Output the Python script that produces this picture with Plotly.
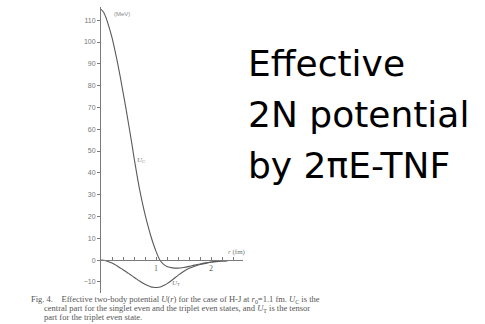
import plotly.graph_objects as go

# radial distance r (fm)
r = [0.0, 0.05, 0.1, 0.15, 0.2, 0.25, 0.3, 0.35, 0.4, 0.45, 0.5, 0.55, 0.6, 0.65,
     0.7, 0.75, 0.8, 0.85, 0.9, 0.95, 1.0, 1.05, 1.1, 1.15, 1.2, 1.3, 1.4, 1.5,
     1.6, 1.7, 1.8, 1.9, 2.0, 2.1, 2.2, 2.3]
# central potential U_C (MeV)
u_c = [115.0, 113.5, 110.5, 106.5, 102.0, 96.5, 90.5, 84.0, 77.0, 70.0, 62.5, 55.0,
       47.0, 39.5, 32.5, 26.5, 21.0, 16.0, 11.5, 7.5, 4.0, 1.0, -1.0, -2.2, -3.0,
       -3.6, -3.7, -3.4, -2.9, -2.3, -1.8, -1.3, -0.9, -0.6, -0.4, -0.25]
# tensor potential U_T (MeV)
u_t = [0.0, -0.1, -0.4, -0.85, -1.4, -2.05, -2.8, -3.6, -4.4, -5.25, -6.1, -7.0,
       -7.9, -8.75, -9.6, -10.4, -11.1, -11.7, -12.2, -12.5, -12.6, -12.45, -12.1,
       -11.5, -10.8, -9.0, -7.0, -5.2, -3.8, -2.8, -2.0, -1.5, -1.0, -0.7, -0.45, -0.3]

y_ticks = list(range(-10, 111, 10))
x_tick_labels = [1, 2]
y_range = [-15.1, 116.05]
x_range = [0, 2.58]

caption = [
    "Fig. 4.    Effective two-body potential <i>U</i>(<i>r</i>) for the case of H-J at <i>r</i><sub>0</sub>=1.1 fm. <i>U</i><sub>C</sub> is the",
    "central part for the singlet even and the triplet even states, and <i>U</i><sub>T</sub> is the tensor",
    "part for the triplet even state.",
]
title_lines = ["Effective", "2N potential", "by 2\u03c0E-TNF"]

line_col = "#5a5a5a"
axis_col = "#7a7a7a"

W, H = 485, 324
ML, MR, MT, MB = 101, 242, 7, 31
PW, PH = W - ML - MR, H - MT - MB


def px(xp):
    return (xp - ML) / PW


def py(yp):
    return (H - MB - yp) / PH


fig = go.Figure()
fig.add_trace(go.Scatter(x=r, y=u_c, mode="lines", line=dict(color=line_col, width=1.1, shape="spline"),
                         showlegend=False, hoverinfo="skip"))
fig.add_trace(go.Scatter(x=r, y=u_t, mode="lines", line=dict(color=line_col, width=1.1, shape="spline"),
                         showlegend=False, hoverinfo="skip"))

zero_pos = (0 - y_range[0]) / (y_range[1] - y_range[0])

fig.update_layout(
    width=W, height=H,
    margin=dict(l=ML, r=MR, t=MT, b=MB),
    paper_bgcolor="white", plot_bgcolor="white",
    xaxis=dict(range=x_range, anchor="free", position=zero_pos, showgrid=False, zeroline=False,
               showline=True, linecolor=axis_col, linewidth=1,
               tickvals=x_tick_labels, ticktext=[str(v) for v in x_tick_labels],
               ticks="inside", ticklen=3, tickcolor=axis_col,
               minor=dict(dtick=0.2, ticks="inside", ticklen=3, tickcolor=axis_col),
               tickfont=dict(family="Liberation Serif", size=8, color="#666")),
    yaxis=dict(range=y_range, showgrid=False, zeroline=False, showline=True, linecolor=axis_col,
               linewidth=1, tickvals=y_ticks, ticks="outside", ticklen=3, tickcolor=axis_col,
               tickfont=dict(family="Liberation Sans", size=7, color="#777")),
)

anns = [
    dict(x=0.2, y=113, xref="x", yref="y", text="(MeV)", showarrow=False, xanchor="left",
         font=dict(family="Liberation Sans", size=6, color="#888")),
    dict(x=2.28, y=3.5, xref="x", yref="y", text="<i>r</i> (fm)", showarrow=False, xanchor="left",
         font=dict(family="Liberation Serif", size=7, color="#777")),
    dict(x=0.73, y=46, xref="x", yref="y", text="<i>U</i><sub>C</sub>", showarrow=False,
         font=dict(family="Liberation Serif", size=7, color="#777")),
    dict(x=1.36, y=-10.5, xref="x", yref="y", text="<i>U</i><sub>T</sub>", showarrow=False,
         font=dict(family="Liberation Serif", size=7, color="#777")),
]
for i, ln in enumerate(caption):
    anns.append(dict(x=px(29 if i == 0 else 42), y=py(299 + i * 9), xref="paper", yref="paper",
                     text=ln, showarrow=False, xanchor="left", yanchor="middle",
                     font=dict(family="Liberation Serif", size=8.5, color="#555")))
for i, ln in enumerate(title_lines):
    anns.append(dict(x=px(246), y=py(64 + i * 50.5), xref="paper", yref="paper",
                     text=ln, showarrow=False, xanchor="left", yanchor="middle",
                     font=dict(family="DejaVu Sans", size=36, color="black")))
fig.update_layout(annotations=anns)

fig.write_html("out.html")
